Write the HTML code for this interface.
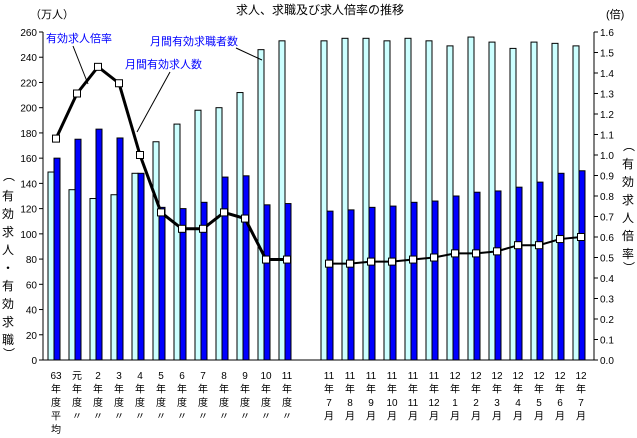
<!DOCTYPE html>
<html><head><meta charset="utf-8"><style>
body{margin:0;background:#fff;}
svg{display:block;font-family:"Liberation Sans","Noto Sans CJK JP",sans-serif;}
</style></head><body>
<svg id="chart" width="637" height="438" viewBox="0 0 637 438">
<text x="320" y="14" font-size="12" text-anchor="middle">求人、求職及び求人倍率の推移</text>
<text x="30" y="18" font-size="11">（万人）</text>
<text x="606" y="18" font-size="11">(倍)</text>
<g id="axes"></g><g id="bars"></g><g id="lines"></g><g id="xlabels"></g>
<g font-size="11" fill="#0000ff">
<text x="46" y="42">有効求人倍率</text>
<line x1="73" y1="46" x2="88" y2="84" stroke="#000" stroke-width="1"/>
<text x="125" y="68">月間有効求人数</text>
<line x1="170" y1="72" x2="137" y2="132" stroke="#000" stroke-width="1"/>
<text x="150" y="45">月間有効求職者数</text>
<line x1="236" y1="48" x2="262" y2="60" stroke="#000" stroke-width="1"/>
</g>
<g font-size="12">
<text x="3" y="180">︵</text><text x="2" y="200">有</text><text x="2" y="218">効</text><text x="2" y="236">求</text><text x="2" y="254">人</text><text x="2" y="272">・</text><text x="2" y="290">有</text><text x="2" y="308">効</text><text x="2" y="326">求</text><text x="2" y="344">職</text><text x="3" y="358">︶</text>
</g>
<g font-size="12">
<text x="623" y="150">︵</text><text x="622" y="168">有</text><text x="622" y="186">効</text><text x="622" y="204">求</text><text x="622" y="222">人</text><text x="622" y="240">倍</text><text x="622" y="258">率</text><text x="623" y="272">︶</text>
</g>
</svg>
<script>
const categories=[["63","年","度","平","均"],["元","年","度","〃"],["2","年","度","〃"],["3","年","度","〃"],["4","年","度","〃"],["5","年","度","〃"],["6","年","度","〃"],["7","年","度","〃"],["8","年","度","〃"],["9","年","度","〃"],["10","年","度","〃"],["11","年","度","〃"],null,
["11","年","7","月"],["11","年","8","月"],["11","年","9","月"],["11","年","10","月"],["11","年","11","月"],["11","年","12","月"],["12","年","1","月"],["12","年","2","月"],["12","年","3","月"],["12","年","4","月"],["12","年","5","月"],["12","年","6","月"],["12","年","7","月"]];
const seekers=[149,135,128,131,148,173,187,198,200,212,246,253,null,253,255,255,253,255,253,249,256,252,247,252,251,249];
const openings=[160,175,183,176,148,121,120,125,145,146,123,124,null,118,119,121,122,125,126,130,133,134,137,141,148,150];
const ratio=[1.08,1.30,1.43,1.35,1.00,0.72,0.64,0.64,0.72,0.69,0.49,0.49,null,0.47,0.47,0.48,0.48,0.49,0.50,0.52,0.52,0.53,0.56,0.56,0.59,0.60];
const leftTicks=[0,20,40,60,80,100,120,140,160,180,200,220,240,260];
const rightTicks=[0,0.1,0.2,0.3,0.4,0.5,0.6,0.7,0.8,0.9,1.0,1.1,1.2,1.3,1.4,1.5,1.6];
const NS="http://www.w3.org/2000/svg";
const X0=45.5,SLOT=21,BOT=360,TOP=32,LX=43,RX=594;
const xc=i=>X0+SLOT*i+SLOT/2;
const yl=v=>BOT-(BOT-TOP)*v/260;
const yr=v=>BOT-(BOT-TOP)*v/1.6;
function mk(tag,attrs,parent){const e=document.createElementNS(NS,tag);for(const k in attrs)e.setAttribute(k,attrs[k]);parent.appendChild(e);return e;}
const axes=document.getElementById('axes');
mk('line',{x1:LX,y1:TOP,x2:LX,y2:BOT,stroke:'#000'},axes);
mk('line',{x1:LX,y1:BOT,x2:RX,y2:BOT,stroke:'#000'},axes);
mk('line',{x1:RX,y1:TOP,x2:RX,y2:BOT,stroke:'#000'},axes);
leftTicks.forEach(v=>{
  mk('line',{x1:LX-4,y1:yl(v),x2:LX,y2:yl(v),stroke:'#000'},axes);
  const t=mk('text',{x:LX-6,y:yl(v)+4,'font-size':10,'text-anchor':'end'},axes);t.textContent=v;
  
  
});
rightTicks.forEach(v=>{
  mk('line',{x1:RX,y1:yr(v),x2:RX+4,y2:yr(v),stroke:'#000'},axes);
  const t=mk('text',{x:RX+6,y:yr(v)+4,'font-size':10},axes);t.textContent=v.toFixed(1);
  
  
});
const bars=document.getElementById('bars');
seekers.forEach((v,i)=>{
  if(v==null)return;
  const r=mk('rect',{x:xc(i)-8,y:yl(v),width:6,height:BOT-yl(v),fill:'#ccffff',stroke:'#000','stroke-width':1},bars);
  
  
});
openings.forEach((v,i)=>{
  if(v==null)return;
  const r=mk('rect',{x:xc(i)-2,y:yl(v),width:6,height:BOT-yl(v),fill:'#0000ff',stroke:'#000','stroke-width':1},bars);
  
  
});
const lines=document.getElementById('lines');
function seg(a,b,w){
  const pts=[];for(let i=a;i<=b;i++)pts.push(xc(i)+','+yr(ratio[i]));
  const p=mk('polyline',{points:pts.join(' '),fill:'none',stroke:'#000','stroke-width':w},lines);
  
  
}
seg(0,11,3);seg(13,25,2);
ratio.forEach((v,i)=>{
  if(v==null)return;
  const r=mk('rect',{x:xc(i)-3.5,y:yr(v)-3.5,width:7,height:7,fill:'#fff',stroke:'#000','stroke-width':1},lines);
  
  
});
const xl=document.getElementById('xlabels');
categories.forEach((c,i)=>{
  if(!c)return;
  const g=mk('g',{},xl);
  
  
  c.forEach((s,j)=>{const t=mk('text',{x:xc(i),y:379+j*13.5,'font-size':10,'text-anchor':'middle'},g);t.textContent=s;});
});
</script>
</body></html>
